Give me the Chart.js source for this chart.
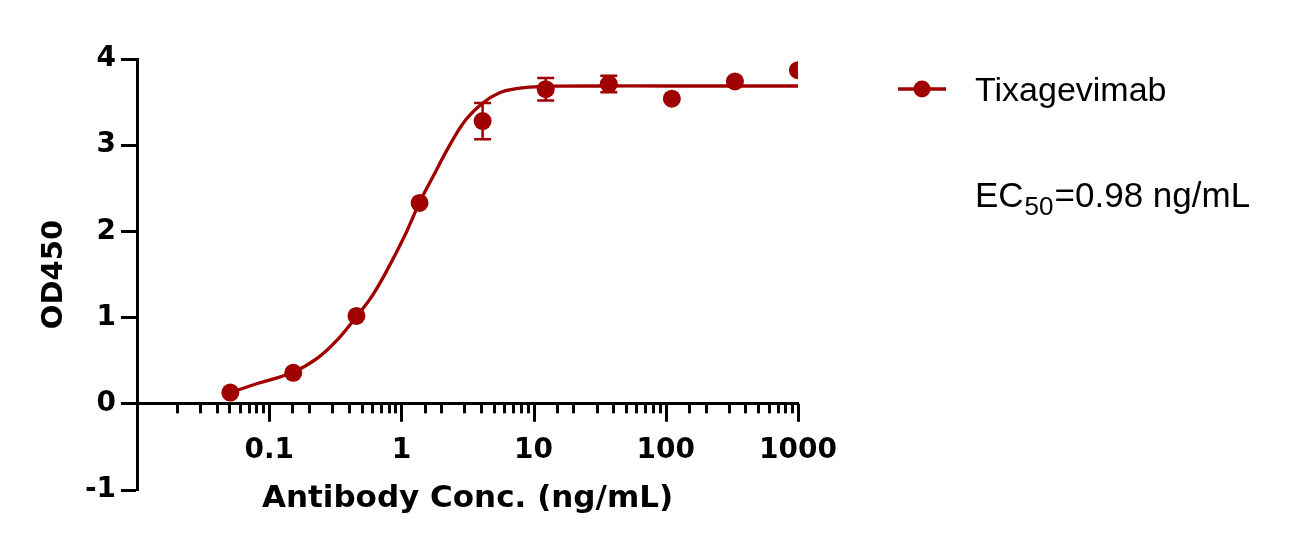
<!DOCTYPE html>
<html>
<head>
<meta charset="utf-8">
<script src="https://cdn.jsdelivr.net/npm/chart.js@4.4.1/dist/chart.umd.min.js"></script>
<style>
  html, body { margin: 0; padding: 0; background: #ffffff; }
  #wrap { width: 1289px; height: 548px; }
</style>
</head>
<body>
<div id="wrap"><canvas id="c" width="1289" height="548"></canvas></div>
<script>
// ---- data ----
const seriesName = 'Tixagevimab';
const ec50Parts = ['EC', '50', '=0.98 ng/mL'];
const xTitle = 'Antibody Conc. (ng/mL)';
const yTitle = 'OD450';

const concentrations = [0.0508, 0.152, 0.457, 1.372, 4.115, 12.35, 37.04, 111.1, 333.3, 1000];
const od450 = [0.13, 0.36, 1.02, 2.33, 3.28, 3.65, 3.71, 3.54, 3.74, 3.87];
const od450Err = [0, 0, 0, 0, 0.21, 0.13, 0.095, 0, 0, 0];

const fitConc = [0.0508, 0.0815, 0.150, 0.232, 0.329, 0.460, 0.606, 0.811, 1.086, 1.368, 1.727, 2.31, 3.09, 4.13, 5.53, 7.39, 10.5, 15.7, 30, 100, 1000];
const fitOD = [0.13, 0.235, 0.364, 0.53, 0.745, 1.016, 1.26, 1.60, 1.985, 2.331, 2.63, 2.995, 3.30, 3.49, 3.608, 3.655, 3.678, 3.685, 3.687, 3.687, 3.687];

const xTickValues = [0.1, 1, 10, 100, 1000];
const xTickLabels = ['0.1', '1', '10', '100', '1000'];
const xRange = [0.01, 1000];
const yRange = [-1, 4];

// ---- styles ----
const RED = '#a00000';
const FONT = 'DejaVu Sans';
const LEGEND_FONT = 'Liberation Sans';

function isDecade(v) {
  const l = Math.log10(v);
  return Math.abs(l - Math.round(l)) < 1e-6;
}

const errorBars = {
  id: 'errorBars',
  beforeDatasetsDraw(chart) {
    const xs = chart.scales.x, ys = chart.scales.y, ctx = chart.ctx;
    ctx.save();
    ctx.strokeStyle = RED;
    ctx.lineWidth = 2.5;
    concentrations.forEach((c, i) => {
      const e = od450Err[i];
      if (!e) return;
      const px = xs.getPixelForValue(c);
      const top = ys.getPixelForValue(od450[i] + e);
      const bot = ys.getPixelForValue(od450[i] - e);
      ctx.beginPath();
      ctx.moveTo(px, top); ctx.lineTo(px, bot);
      ctx.moveTo(px - 8.5, top); ctx.lineTo(px + 8.5, top);
      ctx.moveTo(px - 8.5, bot); ctx.lineTo(px + 8.5, bot);
      ctx.stroke();
    });
    ctx.restore();
  }
};

const xTickMarks = {
  id: 'xTickMarks',
  afterDraw(chart) {
    const xs = chart.scales.x, ys = chart.scales.y, ctx = chart.ctx;
    const y0 = ys.getPixelForValue(0);
    ctx.save();
    ctx.strokeStyle = '#000';
    ctx.lineWidth = 3;
    xs.ticks.forEach(t => {
      if (t.value <= xRange[0] * 1.0001) return;
      const px = Math.round(xs.getPixelForValue(t.value)) + 0.5;
      const len = isDecade(t.value) ? 18 : 9.5;
      ctx.beginPath();
      ctx.moveTo(px, y0);
      ctx.lineTo(px, y0 + len);
      ctx.stroke();
    });
    ctx.restore();
  }
};

const sideLegend = {
  id: 'sideLegend',
  afterDraw(chart) {
    const ctx = chart.ctx;
    const ca = chart.chartArea;
    const x0 = ca.right + 100;
    const yLeg = ca.top + 30;
    ctx.save();
    // sample: line + dot
    ctx.strokeStyle = RED;
    ctx.lineWidth = 3.3;
    ctx.beginPath();
    ctx.moveTo(x0, yLeg); ctx.lineTo(x0 + 48, yLeg);
    ctx.stroke();
    ctx.fillStyle = RED;
    ctx.beginPath();
    ctx.arc(x0 + 24, yLeg, 8.5, 0, Math.PI * 2);
    ctx.fill();
    // label
    ctx.fillStyle = '#000';
    ctx.textBaseline = 'alphabetic';
    ctx.textAlign = 'left';
    const tx = x0 + 77;
    ctx.font = '34px "' + LEGEND_FONT + '"';
    ctx.fillText(chart.data.datasets[0].label, tx, yLeg + 11.5);
    // EC50 annotation
    const yb = yLeg + 118;
    let x = tx;
    ctx.font = '35px "' + LEGEND_FONT + '"';
    ctx.fillText(ec50Parts[0], x, yb);
    x += ctx.measureText(ec50Parts[0]).width + 1;
    ctx.font = '26px "' + LEGEND_FONT + '"';
    ctx.fillText(ec50Parts[1], x, yb + 8);
    x += ctx.measureText(ec50Parts[1]).width + 1;
    ctx.font = '35px "' + LEGEND_FONT + '"';
    ctx.fillText(ec50Parts[2], x, yb);
    ctx.restore();
  }
};

new Chart(document.getElementById('c'), {
  type: 'scatter',
  data: {
    datasets: [
      {
        label: seriesName,
        data: concentrations.map((x, i) => ({ x: x, y: od450[i] })),
        showLine: false,
        pointRadius: 9,
        pointHoverRadius: 9,
        pointBorderWidth: 0,
        pointBackgroundColor: RED,
        backgroundColor: RED,
        borderColor: RED,
        order: 0
      },
      {
        label: seriesName + ' fit',
        data: fitConc.map((x, i) => ({ x: x, y: fitOD[i] })),
        showLine: true,
        pointRadius: 0,
        pointHoverRadius: 0,
        borderColor: RED,
        backgroundColor: RED,
        borderWidth: 3.3,
        tension: 0.4,
        fill: false,
        order: 1
      }
    ]
  },
  options: {
    responsive: false,
    animation: false,
    devicePixelRatio: 1,
    layout: { padding: { top: 59, right: 491, bottom: 58, left: 0 } },
    plugins: {
      legend: { display: false },
      tooltip: { enabled: false }
    },
    scales: {
      x: {
        type: 'logarithmic',
        min: xRange[0],
        max: xRange[1],
        position: { y: 0 },
        afterFit(s) { s.height = 58; },
        grid: { display: false, drawTicks: false },
        border: { display: true, color: '#000', width: 3 },
        ticks: {
          autoSkip: false,
          maxRotation: 0,
          minRotation: 0,
          padding: 30,
          color: '#000',
          font: { family: FONT, weight: 'bold', size: 28 },
          callback(v) {
            for (let i = 0; i < xTickValues.length; i++) {
              if (Math.abs(v - xTickValues[i]) / xTickValues[i] < 1e-6) return xTickLabels[i];
            }
            return '';
          }
        },
        title: {
          display: true,
          text: xTitle,
          color: '#000',
          font: { family: FONT, weight: 'bold', size: 31 },
          padding: { top: 0, bottom: -56 }
        }
      },
      y: {
        type: 'linear',
        min: yRange[0],
        max: yRange[1],
        position: 'left',
        afterFit(s) { s.width = 137; },
        grid: {
          display: true,
          drawOnChartArea: false,
          drawTicks: true,
          tickLength: 16,
          tickWidth: 3,
          tickColor: '#000',
          color: '#000'
        },
        border: { display: true, color: '#000', width: 3 },
        ticks: {
          stepSize: 1,
          padding: 5,
          color: '#000',
          font: { family: FONT, weight: 'bold', size: 28 }
        },
        title: {
          display: true,
          text: yTitle,
          color: '#000',
          font: { family: FONT, weight: 'bold', size: 29 },
          padding: { top: 37, bottom: 0 }
        }
      }
    }
  },
  plugins: [errorBars, xTickMarks, sideLegend]
});
</script>
</body>
</html>
